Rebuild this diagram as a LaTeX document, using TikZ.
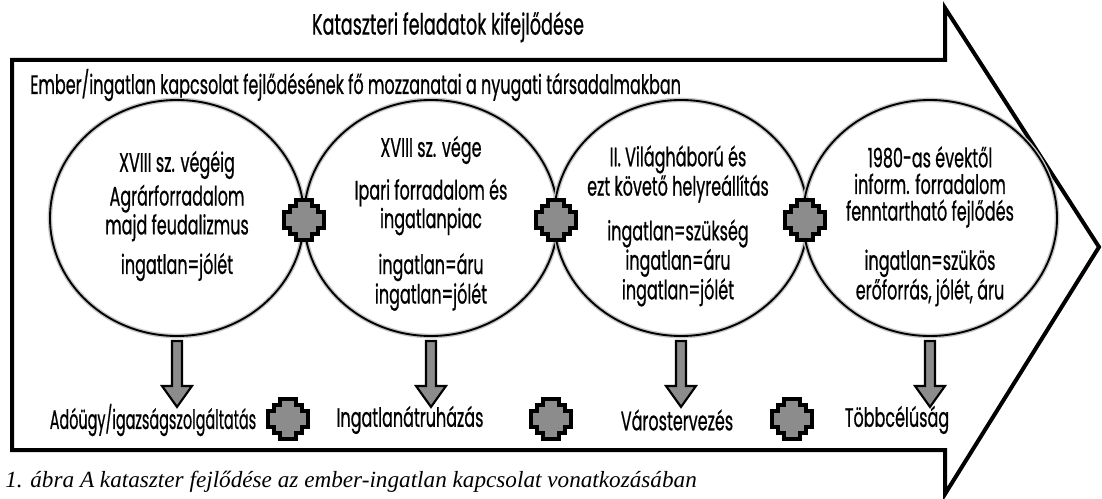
\documentclass[tikz,border=0pt]{standalone}
\usepackage{fontspec}
\newfontfamily\cf[FakeStretch=0.6,FakeBold=0.6]{Poppins}
\newfontfamily\cfn[FakeStretch=0.54,FakeBold=0.6]{Poppins}
\newfontfamily\capfont{Liberation Serif}
\usetikzlibrary{shapes.geometric}
\definecolor{fillgray}{RGB}{140,140,140}
\begin{document}
\begin{tikzpicture}[x=0.75pt,y=-0.75pt,
  txt/.style={font=\cf\fontsize{20}{20}\selectfont, align=center, inner sep=0pt},
  ring/.style={ellipse, draw=black, line width=1.4pt, minimum width=190.5pt, minimum height=177pt, inner sep=0pt,
     preaction={draw=gray!45, line width=3.5pt}},
  bigarrow/.style={draw=black, line width=3pt, miter limit=20},
  crossstyle/.style={draw=black, fill=fillgray, line width=2.8pt},
  blockarrow/.style={draw=black, fill=fillgray, line width=1.6pt},
  gcross/.pic={\path[crossstyle] (8,20) -- (8,14) -- (14,14) -- (14,8) -- (20,8) -- (20,-8) -- (14,-8) -- (14,-14) -- (8,-14) -- (8,-20)
      -- (-8,-20) -- (-8,-14) -- (-14,-14) -- (-14,-8) -- (-20,-8) -- (-20,8) -- (-14,8) -- (-14,14) -- (-8,14) -- (-8,20) -- cycle;},
  downarrow/.pic={\path[blockarrow] (-5,0) -- (5,0) -- (5,45) -- (15,45) -- (0,66) -- (-15,45) -- (-5,45) -- cycle;}
]
\useasboundingbox (0,0) rectangle (1102,499);
% big arrow
\draw[bigarrow] (12,60) -- (945,60) -- (945,8) -- (1099,247) -- (945,494) -- (945,450) -- (12,450) -- cycle;
\node[txt, font=\cf\fontsize{22}{22}\selectfont] (title) at (448,27) {Kataszteri feladatok kifejlődése};
\node[txt, anchor=west] (head) at (30,85) {Ember/ingatlan kapcsolat fejlődésének fő mozzanatai a nyugati társadalmakban};
% circles
\node[ring] (c1) at (177,218) {};
\node[ring] (c2) at (431,218) {};
\node[ring] (c3) at (681,218) {};
\node[ring] (c4) at (930,218) {};
% circle texts
\node[txt] (t11) at (177,165) {XVIII sz. végéig};
\node[txt] (t12) at (177,213) {Agrárforradalom\\majd feudalizmus};
\node[txt] (t13) at (177,267) {ingatlan=jólét};
\node[txt] (t21) at (431,150) {XVIII sz. vége};
\node[txt] (t22) at (431,207) {Ipari forradalom és\\ingatlanpiac};
\node[txt] (t23) at (431,282) {ingatlan=áru\\ingatlan=jólét};
\node[txt] (t31) at (678,174) {II. Világháború és\\ezt követő helyreállítás};
\node[txt] (t32) at (678,263) {ingatlan=szükség\\ingatlan=áru\\ingatlan=jólét};
\node[txt] (t41) at (930,187) {1980-as évektől\\inform. forradalom\\fenntartható fejlődés};
\node[txt] (t42) at (930,278) {ingatlan=szükös\\erőforrás, jólét, áru};
% crosses between circles
\pic at (304,220) {gcross};
\pic at (556,220) {gcross};
\pic at (805,220) {gcross};
% bottom labels
\node[txt, font=\cfn\fontsize{20}{20}\selectfont] (b1) at (153,420) {Adóügy/igazságszolgáltatás};
\node[txt] (b2) at (410,420) {Ingatlanátruházás};
\node[txt] (b3) at (677,420) {Várostervezés};
\node[txt] (b4) at (897,420) {Többcélúság};
\pic at (288,419) {gcross};
\pic at (551,419) {gcross};
\pic at (792,419) {gcross};
% down arrows
\pic at ([yshift=-3pt]c1.south) {downarrow};
\pic at ([yshift=-3pt]c2.south) {downarrow};
\pic at ([yshift=-3pt]c3.south) {downarrow};
\pic at ([yshift=-3pt]c4.south) {downarrow};
% caption
\node[font=\capfont\itshape\fontsize{17.4}{20}\selectfont, anchor=base west, inner sep=0pt] (cap) at (5,487)
  {1. ábra A kataszter fejlődése az ember-ingatlan kapcsolat vonatkozásában};
\end{tikzpicture}
\end{document}
